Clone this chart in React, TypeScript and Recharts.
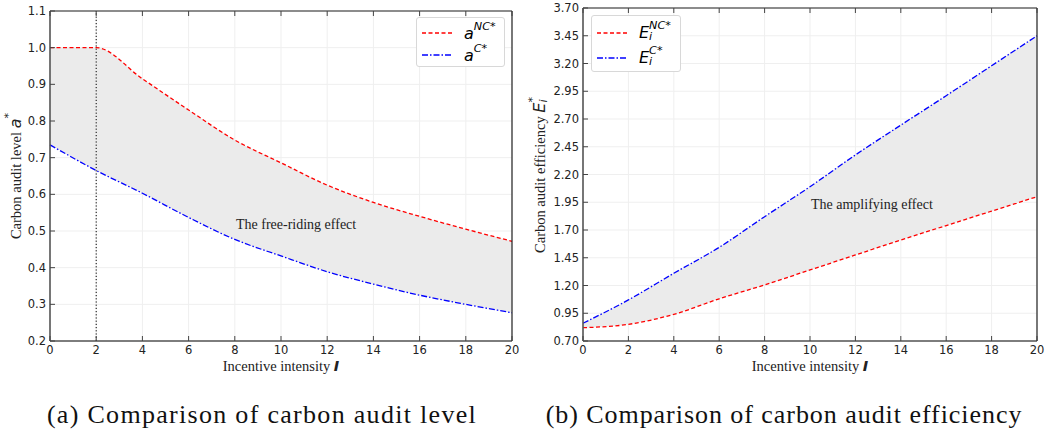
import { Area, CartesianGrid, ComposedChart, Line, ReferenceLine, XAxis, YAxis } from "recharts";

const intensity = [0, 2, 4, 6, 8, 10, 12, 14, 16, 18, 20];
const auditLevelNC = [1.0, 1.0, 0.915, 0.83, 0.748, 0.686, 0.625, 0.578, 0.54, 0.505, 0.472];
const auditLevelC = [0.735, 0.665, 0.603, 0.537, 0.477, 0.432, 0.389, 0.355, 0.325, 0.3, 0.277];
const efficiencyNC = [0.82, 0.85, 0.94, 1.08, 1.205, 1.34, 1.475, 1.61, 1.74, 1.87, 2.0];
const efficiencyC = [0.86, 1.07, 1.31, 1.544, 1.82, 2.09, 2.376, 2.645, 2.91, 3.18, 3.45];

const xTicks = [0, 2, 4, 6, 8, 10, 12, 14, 16, 18, 20];
const levelTicks = [0.2, 0.3, 0.4, 0.5, 0.6, 0.7, 0.8, 0.9, 1.0, 1.1];
const efficiencyTicks = [0.7, 0.95, 1.2, 1.45, 1.7, 1.95, 2.2, 2.45, 2.7, 2.95, 3.2, 3.45, 3.7];

const levelData = intensity.map((x, i) => ({ x, nc: auditLevelNC[i], c: auditLevelC[i] }));
const efficiencyData = intensity.map((x, i) => ({ x, nc: efficiencyNC[i], c: efficiencyC[i] }));

const RED = "#ff0000";
const BLUE = "#0000ff";
const NC_DASH = "4 2.5";
const C_DASH = "6 2 1.5 2";
const serif = "'Liberation Serif', 'Times New Roman', serif";
const sans = "'DejaVu Sans', sans-serif";

const tickText = { fontFamily: sans, fontSize: 11.5, fill: "#222" };

const BottomTick = (props: any) => {
  const { x, y, payload } = props;
  return (
    <g>
      <line x1={x} x2={x} y1={y} y2={y - 5} stroke="#444" />
      <text x={x} y={y + 13} textAnchor="middle" {...tickText}>
        {payload.value}
      </text>
    </g>
  );
};

const makeLeftTick = (digits: number) => (props: any) => {
  const { x, y, payload } = props;
  return (
    <g>
      <line x1={x} x2={x + 5} y1={y} y2={y} stroke="#444" />
      <text x={x - 4} y={y + 4} textAnchor="end" {...tickText}>
        {payload.value.toFixed(digits)}
      </text>
    </g>
  );
};

const TopTick = (props: any) => (
  <line x1={props.x} x2={props.x} y1={props.y} y2={props.y + 5} stroke="#444" />
);

const RightTick = (props: any) => (
  <line x1={props.x} x2={props.x - 5} y1={props.y} y2={props.y} stroke="#444" />
);

const Swatch = ({ color, dash }: { color: string; dash: string }) => (
  <svg width={30} height={6} style={{ display: "block" }}>
    <line x1={0} x2={30} y1={3} y2={3} stroke={color} strokeWidth={1.3} strokeDasharray={dash} />
  </svg>
);

const Sym = ({ base, sup, sub, size }: { base: string; sup: string; sub?: string; size?: number }) => (
  <span style={{ fontFamily: sans, fontStyle: "italic", whiteSpace: "nowrap", fontSize: size }}>
    {base}
    <span style={{ display: "inline-flex", flexDirection: "column", verticalAlign: "top", lineHeight: 1 }}>
      <span style={{ fontSize: "0.7em", marginTop: "-0.25em" }}>{sup}</span>
      {sub ? <span style={{ fontSize: "0.7em" }}>{sub}</span> : null}
    </span>
  </span>
);

const LegendBox = ({ left, top, width, height, rows }: any) => (
  <div
    style={{
      position: "absolute",
      left,
      top,
      width,
      height,
      boxSizing: "border-box",
      border: "1px solid #d8d8d8",
      borderRadius: 3,
      background: "#fff",
      padding: "4px 0 0 5px",
    }}
  >
    {rows.map((r: any, i: number) => (
      <div key={i} style={{ display: "flex", alignItems: "center", height: r.h, gap: 12 }}>
        <Swatch color={r.color} dash={r.dash} />
        <span style={{ fontSize: 16 }}>{r.label}</span>
      </div>
    ))}
  </div>
);

const Panel = ({ data, left, width, margin, yWidth, domain, yTicks, digits, refLine }: any) => (
  <div style={{ position: "absolute", left, top: 0 }}>
    <ComposedChart width={width} height={380} data={data} margin={margin}>
      <CartesianGrid stroke="#efefef" />
      <XAxis
        dataKey="x"
        type="number"
        domain={[0, 20]}
        ticks={xTicks}
        height={30}
        tickSize={0}
        tickMargin={0}
        tickLine={false}
        tick={BottomTick}
        interval={0}
        axisLine={{ stroke: "#555", strokeWidth: 1.6 }}
      />
      <XAxis
        xAxisId="top"
        orientation="top"
        dataKey="x"
        type="number"
        domain={[0, 20]}
        ticks={xTicks}
        height={1}
        tickSize={0}
        tickMargin={0}
        tickLine={false}
        tick={TopTick}
        interval={0}
        axisLine={{ stroke: "#222", strokeWidth: 1.2 }}
      />
      <YAxis
        type="number"
        domain={domain}
        ticks={yTicks}
        width={yWidth}
        tickSize={0}
        tickMargin={0}
        tickLine={false}
        tick={makeLeftTick(digits)}
        interval={0}
        axisLine={{ stroke: "#555", strokeWidth: 1.6 }}
      />
      <YAxis
        yAxisId="right"
        orientation="right"
        type="number"
        domain={domain}
        ticks={yTicks}
        width={1}
        tickSize={0}
        tickMargin={0}
        tickLine={false}
        tick={RightTick}
        interval={0}
        axisLine={{ stroke: "#222", strokeWidth: 1.2 }}
      />
      <Area
        type="monotone"
        dataKey={(d: any) => [d.c, d.nc]}
        fill="#ebebeb"
        fillOpacity={1}
        stroke="none"
        isAnimationActive={false}
      />
      {refLine ? <ReferenceLine x={2} stroke="#000" strokeWidth={1} strokeDasharray="1.2 2" /> : null}
      <Line
        type="monotone"
        dataKey="nc"
        stroke={RED}
        strokeWidth={1.3}
        strokeDasharray={NC_DASH}
        dot={false}
        isAnimationActive={false}
      />
      <Line
        type="monotone"
        dataKey="c"
        stroke={BLUE}
        strokeWidth={1.3}
        strokeDasharray={C_DASH}
        dot={false}
        isAnimationActive={false}
      />
    </ComposedChart>
  </div>
);

const abs = (left: number, top: number, extra: any = {}) => ({
  position: "absolute" as const,
  left,
  top,
  fontFamily: serif,
  whiteSpace: "nowrap" as const,
  color: "#222",
  ...extra,
});

const XTitle = ({ cx }: { cx: number }) => (
  <div style={abs(cx, 366, { fontSize: 14.5, transform: "translate(-50%, -50%)" })}>
    Incentive intensity{" "}
    <span style={{ fontFamily: sans, fontStyle: "italic", fontWeight: 600 }}>I</span>
  </div>
);

export default function App() {
  return (
    <div style={{ position: "absolute", left: 0, top: 0, width: 1048, height: 434, background: "#fff", overflow: "hidden" }}>
      <Panel
        data={levelData}
        left={0}
        width={520}
        margin={{ top: 10, right: 7, bottom: 9, left: 0 }}
        yWidth={50}
        domain={[0.2, 1.1]}
        yTicks={levelTicks}
        digits={1}
        refLine
      />
      <Panel
        data={efficiencyData}
        left={520}
        width={528}
        margin={{ top: 7, right: 10, bottom: 9, left: 0 }}
        yWidth={63}
        domain={[0.7, 3.7]}
        yTicks={efficiencyTicks}
        digits={2}
      />

      <LegendBox
        left={416}
        top={17}
        width={89}
        height={50}
        rows={[
          { color: RED, dash: NC_DASH, h: 22, label: <Sym base="a" sup="NC*" /> },
          { color: BLUE, dash: C_DASH, h: 22, label: <Sym base="a" sup="C*" /> },
        ]}
      />
      <LegendBox
        left={591}
        top={15}
        width={90}
        height={57}
        rows={[
          { color: RED, dash: NC_DASH, h: 25, label: <Sym base="E" sup="NC*" sub="i" /> },
          { color: BLUE, dash: C_DASH, h: 25, label: <Sym base="E" sup="C*" sub="i" /> },
        ]}
      />

      <div style={abs(236, 217, { fontSize: 14 })}>The free-riding effect</div>
      <div style={abs(811, 197, { fontSize: 14 })}>The amplifying effect</div>

      <XTitle cx={281} />
      <XTitle cx={810} />

      <div style={abs(15, 176, { fontSize: 14.5, transform: "translate(-50%, -50%) rotate(-90deg)" })}>
        Carbon audit level <Sym base="a" sup="*" size={16} />
      </div>
      <div style={abs(540, 175, { fontSize: 14.5, transform: "translate(-50%, -50%) rotate(-90deg)" })}>
        Carbon audit efficiency <Sym base="E" sup="*" sub="i" size={16} />
      </div>

      <div style={abs(262, 415, { fontSize: 26, letterSpacing: 1.3, transform: "translate(-50%, -50%)", color: "#111" })}>
        (a) Comparison of carbon audit level
      </div>
      <div style={abs(784, 415, { fontSize: 26, letterSpacing: 0.95, transform: "translate(-50%, -50%)", color: "#111" })}>
        (b) Comparison of carbon audit efficiency
      </div>
    </div>
  );
}
